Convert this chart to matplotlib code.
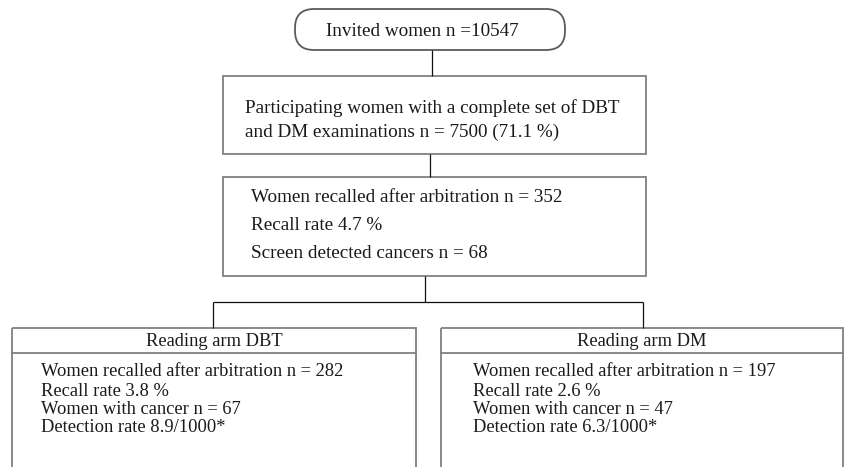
import matplotlib
matplotlib.use("Agg")
import matplotlib.pyplot as plt
from matplotlib.patches import FancyBboxPatch, Rectangle

plt.rcParams['font.family'] = ['Liberation Serif', 'DejaVu Serif']

# ---- data (texts of the flowchart) ----
top_text = "Invited women n =10547"
participating_lines = ["Participating women with a complete set of DBT",
                       "and DM examinations n = 7500 (71.1 %)"]
recall_lines = ["Women recalled after arbitration n = 352",
                "Recall rate 4.7 %",
                "Screen detected cancers n = 68"]
arm_titles = ["Reading arm DBT", "Reading arm DM"]
arm_recalled = [282, 197]
arm_recall_rate = [3.8, 2.6]
arm_cancer = [67, 47]
arm_detection = [8.9, 6.3]

W, H = 845, 467
fig = plt.figure(figsize=(W / 100, H / 100), dpi=100)
ax = fig.add_axes([0, 0, 1, 1])
ax.set_xlim(0, W)
ax.set_ylim(H, 0)
ax.axis('off')

box_col = '#808080'
box_lw = 1.3
line_col = '#111111'
line_lw = 0.9
txt_col = '#1a1a1a'
fs_top = 13.8
fs_low = 13.3

def rect(x0, y0, x1, y1):
    ax.add_patch(Rectangle((x0, y0), x1 - x0, y1 - y0, fill=False,
                           edgecolor=box_col, linewidth=box_lw))

def vline(x, y0, y1):
    ax.plot([x, x], [y0, y1], color=line_col, lw=line_lw, solid_capstyle='butt')

# top rounded box
ax.add_patch(FancyBboxPatch((295, 9), 270, 41,
                            boxstyle="round,pad=0,rounding_size=19",
                            fill=False, edgecolor='#5a5a5a', linewidth=box_lw))
ax.text(422, 29, top_text, fontsize=fs_top, color=txt_col,
        ha='center', va='center_baseline')

vline(432, 50, 76)

# participating box
rect(223, 76, 646, 154)
for y, s in zip([106, 130], participating_lines):
    ax.text(245, y, s, fontsize=fs_top, color=txt_col, ha='left', va='center_baseline')

vline(430, 154, 177)

# recall box
rect(223, 177, 646, 276)
for y, s in zip([195, 223, 252], recall_lines):
    ax.text(251, y, s, fontsize=fs_top, color=txt_col, ha='left', va='center_baseline')

vline(425, 276, 302)
ax.plot([213, 643], [302, 302], color=line_col, lw=line_lw, solid_capstyle='butt')
vline(213, 302, 328)
vline(643, 302, 328)

# reading arm boxes (open at the bottom, cut by the figure edge)
arm_boxes = [(12, 416, 41), (441, 843, 473)]
for (x0, x1, tx), title, rec, rr, ca, dr in zip(arm_boxes, arm_titles, arm_recalled,
                                                 arm_recall_rate, arm_cancer, arm_detection):
    rect(x0, 328, x1, 480)
    ax.plot([x0, x1], [353, 353], color=box_col, lw=box_lw)
    ax.text((x0 + x1) / 2, 339, title, fontsize=fs_low, color=txt_col,
            ha='center', va='center_baseline')
    lines = [f"Women recalled after arbitration n = {rec}",
             f"Recall rate {rr} %",
             f"Women with cancer n = {ca}",
             f"Detection rate {dr}/1000*"]
    for y, s in zip([370, 389, 407, 425], lines):
        ax.text(tx, y, s, fontsize=fs_low, color=txt_col, ha='left', va='center_baseline')

fig.savefig("out.png", dpi=100, facecolor='white')
